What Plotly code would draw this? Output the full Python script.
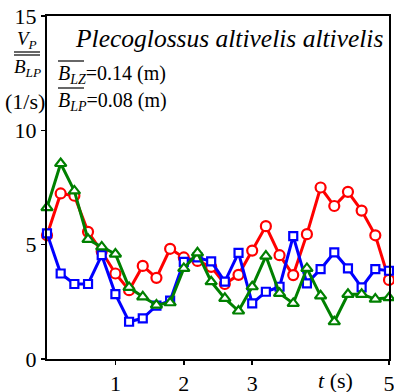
import plotly.graph_objects as go

# ---- data ----
t = [round(i * 0.2, 1) for i in range(26)]
red = [5.41, 7.24, 7.14, 5.56, 4.70, 3.74, 3.01, 4.07, 3.55, 4.82, 4.44, 4.29, 4.03,
       3.28, 3.68, 4.74, 5.81, 4.54, 3.67, 5.46, 7.50, 6.69, 7.31, 6.49, 5.41, 3.46]
blue = [5.49, 3.74, 3.28, 3.28, 4.54, 2.84, 1.63, 1.78, 2.33, 2.55, 4.25, 4.44, 4.27,
        3.38, 4.64, 2.43, 2.94, 3.16, 5.37, 3.31, 3.93, 4.66, 3.96, 3.13, 3.93, 3.86]
green = [6.62, 8.55, 7.35, 5.23, 4.90, 4.59, 3.13, 2.72, 2.36, 2.46, 3.96, 4.64, 3.38,
         2.65, 2.10, 3.16, 4.50, 2.87, 2.43, 3.96, 2.76, 1.63, 2.83, 2.83, 2.62, 2.68]
ytick_vals = [0, 5, 10, 15]
xtick_vals = [1, 2, 3, 5]
xtick_text = ["1", "2", "3", "5"]

SERIF = "'Liberation Serif', 'Times New Roman', Times, serif"
W, H = 394, 392
L, R, T, B = 47, 5, 16, 33
PW, PH = W - L - R, H - T - B


def px(x):
    return (x - L) / PW


def py(y):
    return (H - B - y) / PH


fig = go.Figure()
series = [
    (red, "red", "circle", 10),
    (blue, "blue", "square", 8),
    (green, "green", "triangle-up", 10),
]
for vals, col, sym, sz in series:
    fig.add_trace(go.Scatter(
        x=t, y=vals, mode="lines+markers", cliponaxis=False,
        line=dict(color=col, width=3),
        marker=dict(symbol=sym, size=sz, color="white",
                    line=dict(color=col, width=2.2)),
        showlegend=False, hoverinfo="skip",
    ))

axis_common = dict(showgrid=False, zeroline=False, showline=True, mirror=True,
                   linecolor="black", linewidth=2, ticks="outside", ticklen=4,
                   tickwidth=1.5, tickcolor="black", automargin=False,
                   ticklabeloverflow="allow",
                   tickfont=dict(family=SERIF, size=22, color="black"))

fig.update_layout(
    width=W, height=H,
    margin=dict(l=L, r=R, t=T, b=B, autoexpand=False),
    paper_bgcolor="white", plot_bgcolor="white",
    font=dict(family=SERIF, size=21, color="black"),
    xaxis=dict(range=[0, 5], tickvals=xtick_vals, ticktext=xtick_text, **axis_common),
    yaxis=dict(range=[0, 15], tickvals=ytick_vals, **axis_common),
)


def note(x, y, text, size, anchor="center"):
    return dict(x=px(x), y=py(y), xref="paper", yref="paper", xanchor=anchor,
                yanchor="middle", text=text, showarrow=False,
                font=dict(family=SERIF, size=size, color="black"))


ann = [
    note(229, 38, "<i>Plecoglossus altivelis altivelis</i>", 25.5),
    note(56, 74, "<i>B</i><sub><i>LZ</i></sub>=0.14 (m)", 20, "left"),
    note(56, 101, "<i>B</i><sub><i>LP</i></sub>=0.08 (m)", 20, "left"),
    note(27, 40, "<i>V</i><sub><i>P</i></sub>", 19),
    note(27, 68, "<i>B</i><sub><i>LP</i></sub>", 19),
    note(25, 101, "(1/s)", 22),
    note(335, 380, "<i>t</i> (s)", 22),
]
fig.update_layout(annotations=ann)

shapes = []
for (x0, x1, y) in [(14, 40, 52), (14, 40, 55), (58, 84, 61), (58, 84, 88)]:
    shapes.append(dict(type="line", xref="paper", yref="paper",
                       x0=px(x0), x1=px(x1), y0=py(y), y1=py(y),
                       line=dict(color="black", width=1.2)))
fig.update_layout(shapes=shapes)

fig.write_html(
    "out.html",
    config={"displayModeBar": False, "staticPlot": True},
    post_script="document.body.style.margin='0';document.body.style.padding='0';",
)
